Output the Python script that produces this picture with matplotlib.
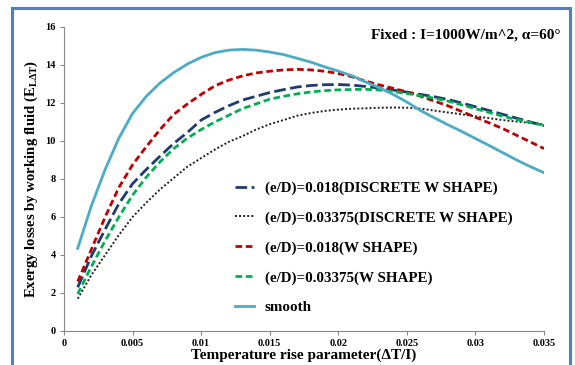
import matplotlib
matplotlib.use("Agg")
import matplotlib.pyplot as plt
from matplotlib.patches import Rectangle

plt.rcParams['font.family'] = ['Liberation Serif', 'DejaVu Serif']
plt.rcParams['font.weight'] = 'bold'
plt.rcParams['axes.labelweight'] = 'bold'
plt.rcParams['mathtext.fontset'] = 'custom'
plt.rcParams['mathtext.rm'] = 'Liberation Serif:bold'
plt.rcParams['mathtext.it'] = 'Liberation Serif:bold'
plt.rcParams['mathtext.bf'] = 'Liberation Serif:bold'

# temperature rise parameter (dT/I)
dt_i = [0.001, 0.002, 0.003, 0.004, 0.005, 0.006, 0.007, 0.008, 0.009, 0.010,
        0.011, 0.012, 0.013, 0.014, 0.015, 0.016, 0.017, 0.018, 0.019, 0.020,
        0.021, 0.022, 0.023, 0.024, 0.025, 0.026, 0.027, 0.028, 0.029, 0.030,
        0.031, 0.032, 0.033, 0.034, 0.035]

disc_018 = [2.3, 3.95, 5.35, 6.7, 7.75, 8.5, 9.2, 9.87, 10.45, 11.1,
            11.5, 11.85, 12.15, 12.35, 12.55, 12.7, 12.84, 12.92, 12.96, 12.97,
            12.94, 12.87, 12.78, 12.68, 12.57, 12.45, 12.33, 12.18, 12.0, 11.8,
            11.6, 11.4, 11.2, 11.0, 10.8]
disc_03375 = [1.7, 2.95, 4.0, 5.05, 6.0, 6.75, 7.45, 8.05, 8.65, 9.1,
              9.55, 9.95, 10.25, 10.6, 10.88, 11.1, 11.33, 11.47, 11.58, 11.65,
              11.7, 11.72, 11.75, 11.76, 11.75, 11.7, 11.6, 11.5, 11.4, 11.3,
              11.2, 11.1, 11.02, 10.95, 10.88]
w_018 = [2.6, 4.3, 6.0, 7.55, 8.75, 9.7, 10.6, 11.4, 11.95, 12.45,
         12.9, 13.2, 13.42, 13.58, 13.67, 13.74, 13.77, 13.74, 13.67, 13.55,
         13.38, 13.15, 12.95, 12.77, 12.58, 12.35, 12.1, 11.85, 11.55, 11.25,
         10.95, 10.65, 10.3, 9.95, 9.6]
w_03375 = [1.95, 3.4, 4.75, 6.0, 7.15, 8.1, 8.9, 9.6, 10.15, 10.6,
           11.0, 11.35, 11.7, 11.95, 12.2, 12.35, 12.48, 12.58, 12.65, 12.69,
           12.71, 12.72, 12.68, 12.6, 12.5, 12.38, 12.25, 12.1, 11.9, 11.7,
           11.5, 11.3, 11.13, 10.97, 10.83]
smooth = [4.35, 6.6, 8.5, 10.15, 11.45, 12.35, 13.05, 13.6, 14.05, 14.4,
          14.65, 14.78, 14.82, 14.78, 14.68, 14.55, 14.35, 14.15, 13.9, 13.68,
          13.43, 13.1, 12.8, 12.45, 12.05, 11.6, 11.22, 10.85, 10.5, 10.13,
          9.76, 9.38, 9.0, 8.65, 8.33]

labels = ["(e/D)=0.018(DISCRETE W SHAPE)", "(e/D)=0.03375(DISCRETE W SHAPE)",
          "(e/D)=0.018(W SHAPE)", "(e/D)=0.03375(W SHAPE)", "smooth"]
xticks = [0, 0.005, 0.01, 0.015, 0.02, 0.025, 0.03, 0.035]
xticklabels = ["0", "0.005", "0.01", "0.015", "0.02", "0.025", "0.03", "0.035"]
yticks = [0, 2, 4, 6, 8, 10, 12, 14, 16]

fig = plt.figure(figsize=(5.75, 3.65), dpi=100)
ax = fig.add_axes([0.1113, 0.0932, 0.8348, 0.8329])

ax.plot(dt_i, disc_018, color="#1f3a6e", lw=2.0, dashes=(4.2, 1.6), label=labels[0])
ax.plot(dt_i, disc_03375, color="#202020", lw=1.4, dashes=(1.0, 1.1), label=labels[1])
ax.plot(dt_i, w_018, color="#c00000", lw=2.0, dashes=(2.4, 1.3), label=labels[2])
ax.plot(dt_i, w_03375, color="#00b050", lw=2.0, dashes=(2.4, 1.3), label=labels[3])
ax.plot(dt_i, smooth, color="#4bacc6", lw=2.0, label=labels[4])

ax.set_xlim(0, 0.035)
ax.set_ylim(0, 16)
ax.set_xticks(xticks)
ax.set_xticklabels(xticklabels, fontweight="bold")
ax.set_yticks(yticks)
ax.set_yticklabels([str(v) for v in yticks], fontweight="bold")
ax.tick_params(labelsize=7.5, length=3, width=0.8, color="#868686", pad=3)
for s in ["top", "right"]:
    ax.spines[s].set_visible(False)
for s in ["left", "bottom"]:
    ax.spines[s].set_color("#868686")
    ax.spines[s].set_linewidth(0.8)

ax.set_xlabel("Temperature rise parameter(ΔT/I)", fontsize=11, fontweight="bold", labelpad=0)
ax.set_ylabel(r"Exergy losses by working fluid (E$_{\mathrm{L\Delta T}}$)", fontsize=10.6,
              fontweight="bold", labelpad=4)

leg = ax.legend(loc="upper left", bbox_to_anchor=(0.34, 0.517), frameon=False,
                prop={"size": 10.8, "weight": "bold"}, handlelength=1.3,
                handletextpad=0.7, labelspacing=1.08, borderpad=0)

fig.text(0.974, 0.905, "Fixed : I=1000W/m^2, α=60°", ha="right", va="center",
         fontsize=11, fontweight="bold")

fig.patches.append(Rectangle((12 / 575, -0.02), 558 / 575, 1 - 8 / 365 + 0.02,
                             transform=fig.transFigure, fill=False,
                             edgecolor="#4f81bd", lw=2.2, zorder=-1))

fig.savefig("out.png", dpi=100)
